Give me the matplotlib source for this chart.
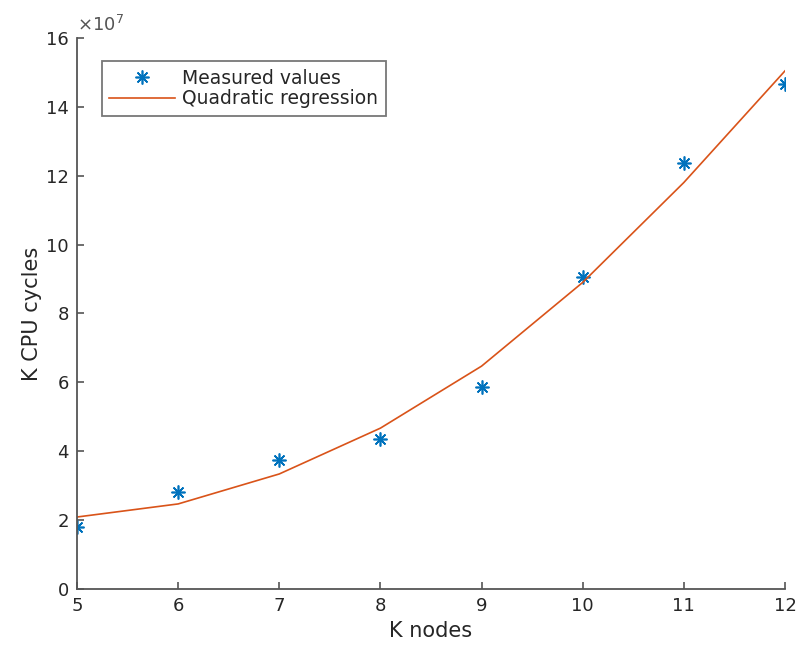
import matplotlib.pyplot as plt
from matplotlib.ticker import FuncFormatter

k_nodes = [5, 6, 7, 8, 9, 10, 11, 12]
measured = [1.80e7, 2.82e7, 3.75e7, 4.36e7, 5.87e7, 9.06e7, 12.37e7, 14.66e7]
regression = [2.09e7, 2.47e7, 3.34e7, 4.67e7, 6.47e7, 8.90e7, 11.80e7, 15.04e7]

axis_gray = '#555555'
text_gray = '#262626'

fig = plt.figure(figsize=(7.99, 6.53), dpi=100)
ax = fig.add_axes([0.0964, 0.098, 0.886, 0.844])

ax.plot(k_nodes, measured, linestyle='none', marker=(8, 2, 0), markersize=10,
        markeredgewidth=1.2, color='#0072BD', label='Measured values')
ax.plot(k_nodes, regression, color='#D95319', linewidth=1.2, label='Quadratic regression')

ax.set_xlim(5, 12)
ax.set_ylim(0, 16e7)
ax.set_xticks(k_nodes)
ax.set_yticks([i * 2e7 for i in range(9)])

# MATLAB style exponent above the y axis
ax.yaxis.set_major_formatter(FuncFormatter(lambda v, pos: '%g' % (v / 1e7)))
ax.text(0.0, 1.005, r'$\times10^{7}$', transform=ax.transAxes, fontsize=13,
        color='#555555', ha='left', va='bottom')

for side in ['top', 'right']:
    ax.spines[side].set_visible(False)
for side in ['left', 'bottom']:
    ax.spines[side].set_color(axis_gray)
    ax.spines[side].set_linewidth(1.3)

ax.tick_params(direction='in', length=5, width=1.2, color=axis_gray,
               labelsize=13, labelcolor=text_gray, pad=6)

ax.set_xlabel('K nodes', fontsize=15, color=text_gray, labelpad=4)
ax.set_ylabel('K CPU cycles', fontsize=15, color=text_gray, labelpad=3)

leg = ax.legend(loc='upper left', bbox_to_anchor=(0.035, 0.958), fontsize=13.5,
                frameon=True, fancybox=False, borderpad=0.4, labelspacing=0.1,
                handlelength=3.5, handletextpad=0.4, borderaxespad=0)
leg.get_frame().set_edgecolor(axis_gray)
leg.get_frame().set_linewidth(1.3)
for t in leg.get_texts():
    t.set_color(text_gray)

fig.savefig('out.png', dpi=100)
